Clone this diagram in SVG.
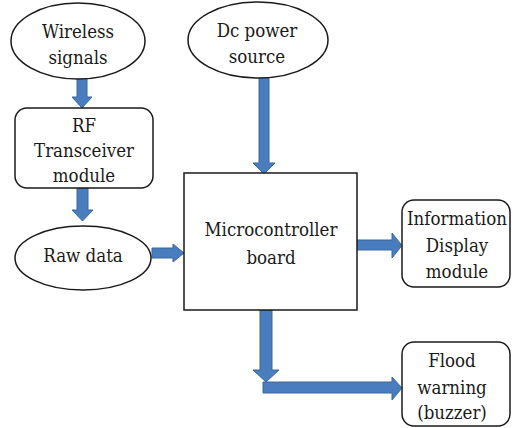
<svg xmlns="http://www.w3.org/2000/svg" width="513" height="428" viewBox="0 0 513 428">
<style>
.n{fill:#fff;stroke:#1a1a1a;stroke-width:1.5}
.t{font-family:'DejaVu Serif Condensed','DejaVu Serif',serif;font-stretch:condensed;font-size:18.5px;fill:#1a1a1a;text-anchor:middle}
.a{fill:#4a7dbd;stroke:#3a66a0;stroke-width:1}
</style>
<rect width="513" height="428" fill="#fff"/>
<g id="connectors">
<polygon class="a" points="77,78 87,78 87,97 92,97 82,108 72,97 77,97"/>
<polygon class="a" points="77,188 88,188 88,210 93,210 82.5,221 72,210 77,210"/>
<polygon class="a" points="152,248 173,248 173,244 184,253 173,262 173,258 152,258"/>
<polygon class="a" points="259,78 269,78 269,163 275,163 264,174 253,163 259,163"/>
<polygon class="a" points="357,240 392,240 392,233 402,245.5 392,258 392,250 357,250"/>
<polygon class="a" points="260,310 272,310 272,370 279,370 266,382 253,370 260,370"/>
<polygon class="a" points="263,382 392,382 392,377 402,388 392,400 392,393 263,393"/>
</g>
<g id="wireless"><ellipse class="n" cx="78" cy="41" rx="67" ry="38"/><text class="t" x="78" y="38">Wireless</text><text class="t" x="78" y="64">signals</text></g>
<g id="dcpower"><ellipse class="n" cx="258" cy="40" rx="70" ry="38"/><text class="t" x="257" y="37">Dc power</text><text class="t" x="257" y="63">source</text></g>
<g id="rf"><rect class="n" x="15" y="108" width="138" height="80" rx="12"/><text class="t" x="84" y="132">RF</text><text class="t" x="84" y="157">Transceiver</text><text class="t" x="84" y="182">module</text></g>
<g id="rawdata"><ellipse class="n" cx="83" cy="258" rx="68" ry="32"/><text class="t" x="83" y="262">Raw data</text></g>
<g id="micro"><rect class="n" x="184" y="173" width="173" height="137"/><text class="t" x="271" y="236">Microcontroller</text><text class="t" x="271" y="264">board</text></g>
<g id="info"><rect class="n" x="402" y="200" width="108" height="87" rx="12"/><text class="t" x="457" y="225">Information</text><text class="t" x="457" y="252">Display</text><text class="t" x="457" y="278">module</text></g>
<g id="flood"><rect class="n" x="402" y="342" width="108" height="84" rx="12"/><text class="t" x="452" y="367">Flood</text><text class="t" x="452" y="394">warning</text><text class="t" x="452" y="419">(buzzer)</text></g>
</svg>
